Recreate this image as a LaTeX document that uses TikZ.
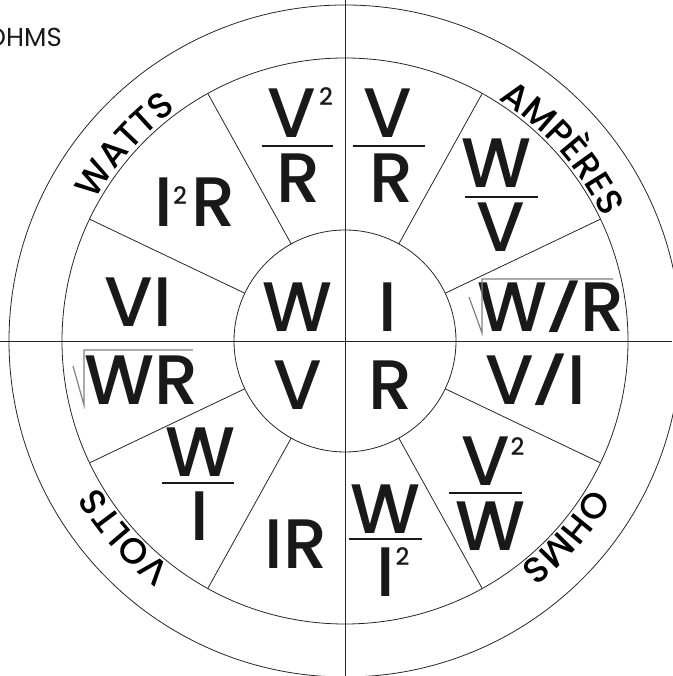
\documentclass[tikz,border=0pt]{standalone}
\usepackage{graphicx}
\usepackage{fontspec}
\setmainfont{Poppins}
\newfontfamily\cellfont{Poppins}[UprightFont=* Medium]
\newfontfamily\lblfont{Poppins}[UprightFont=* Medium]
\usetikzlibrary{decorations.text}
\definecolor{LineClr}{rgb}{0.15,0.15,0.15}
\definecolor{TextClr}{rgb}{0.1,0.1,0.1}
\definecolor{RootClr}{rgb}{0.5,0.5,0.5}
\newcommand\lblsize{\lblfont\fontsize{36}{36}\selectfont}
\newcommand\slsh{\kern-3pt\raisebox{7pt}{\scalebox{1.1}[0.66]{/}}\kern-3pt}

\begin{document}
\begin{tikzpicture}[x=1pt,y=1pt,
  ring/.style={draw=LineClr,line width=0.8pt},
  cell/.style={anchor=base,inner sep=0pt,text=TextClr,font=\cellfont\fontsize{70}{70}\selectfont},
  sup/.style={anchor=base,inner sep=0pt,text=TextClr,font=\cellfont\fontsize{24}{24}\selectfont},
  bar/.style={draw=TextClr,line width=2pt},
  root/.style={draw=RootClr,line width=1.2pt},
  arclbl/.style={decorate,decoration={text along path,text align=center,text={|\lblsize|#1}}}]
\useasboundingbox (-345,-335) rectangle (327,341);

\coordinate (O) at (0,0);
\coordinate (N) at (0,341);
\coordinate (S) at (0,-335);
\coordinate (W) at (-345,0);
\coordinate (E) at (327,0);

\draw[ring] (O) circle[radius=336];
\draw[ring] (O) circle[radius=283];
\draw[ring] (O) circle[radius=111];
\draw[ring] (N) -- (S);
\draw[ring] (W) -- (E);
\foreach \a in {25.5,61,119,154.5,205.5,241,299,334.5}
  \draw[ring] (\a:111) -- (\a:283);

% names round the rim
\path[arclbl=WATTS] (178.4:286) arc[start angle=178.4,end angle=98.4,radius=286];
\path[arclbl=AMPÈRES] (81.5:286) arc[start angle=81.5,end angle=1.5,radius=286];
\path[arclbl=VOLTS] (261.6:286) arc[start angle=261.6,end angle=181.6,radius=286];
\path[arclbl=OHMS] (358.5:286) arc[start angle=358.5,end angle=278.5,radius=286];

\node[anchor=base east,inner sep=0pt,text=TextClr,font=\fontsize{26}{26}\selectfont] (corner) at (-283,294) {OHMS};

% centre
\node[cell] (cW) at (-48,9) {W};
\node[cell] (cI) at (42.5,9) {I};
\node[cell] (cV) at (-47.5,-69) {V};
\node[cell] (cR) at (45.5,-69) {R};

% amperes
\node[cell] (vrN) at (43,203) {V};
\node[cell] (vrD) at (46.5,138) {R};
\draw[bar] (8,195) -- (80,195);
\node[cell] (wvN) at (151,153) {W};
\node[cell] (wvD) at (155.5,89) {V};
\draw[bar] (120,144) -- (193,144);
\node[cell] (wr) at (206,9) {W\slsh R};
\draw[root] (124,44) -- (137,8) -- (137,62) -- (268,62);

% ohms
\node[cell] (vi) at (190.5,-64) {V\slsh I};
\node[cell] (vwN) at (140.5,-144) {V};
\node[sup] (vw2) at (172.5,-114) {2};
\node[cell] (vwD) at (145,-209) {W};
\draw[bar] (104,-152) -- (177,-152);
\node[cell] (wiN) at (40,-192) {W};
\node[cell] (wiD) at (40.5,-255) {I};
\node[sup] (wi2) at (57.5,-224) {2};
\draw[bar] (4,-198) -- (77,-198);

% volts
\node[cell] (ir) at (-49,-227) {IR};
\node[cell] (wIN) at (-145,-135) {W};
\node[cell] (wID) at (-145.5,-199) {I};
\draw[bar] (-183,-142) -- (-111,-142);
\node[cell] (wR) at (-203,-64) {WR};
\draw[root] (-272,-25) -- (-261,-64) -- (-261,-9) -- (-152,-9);

% watts
\node[cell] (vI) at (-206.5,14) {VI};
\node[cell] (irI) at (-181,114) {I};
\node[sup] (ir2) at (-165,136) {2};
\node[cell] (irR) at (-131.5,114) {R};
\node[cell] (v2N) at (-53,203) {V};
\node[sup] (v22) at (-19,235) {2};
\node[cell] (v2D) at (-46,138) {R};
\draw[bar] (-83,195) -- (-12,195);
\end{tikzpicture}
\end{document}
